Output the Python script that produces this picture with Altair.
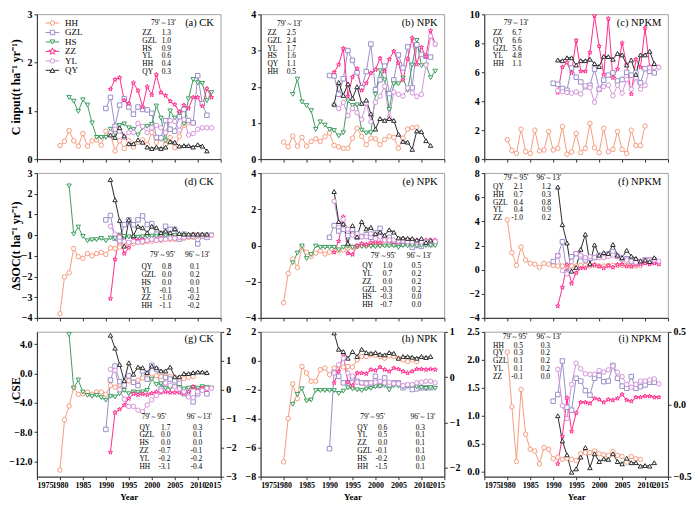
import altair as alt
import pandas as pd

FONT = "Liberation Serif"
W, H = 184, 145
SX, SY = W / 190.0, H / 150.0

SERIES = ["HH", "GZL", "HS", "ZZ", "YL", "QY"]
COLORS = ["#F59C80", "#9A8FCB", "#3E9E5E", "#FF2C8E", "#D493D8", "#2B2B2B"]
STAR = ("M0,-1L0.2245,-0.309L0.951,-0.309L0.363,0.118L0.588,0.809L0,0.382"
        "L-0.588,0.809L-0.363,0.118L-0.951,-0.309L-0.2245,-0.309Z")
SHAPES = ["circle", "square", "triangle-down", STAR, "circle", "triangle-up"]
SIZES = [20, 20, 22, 50, 20, 22]
START = {"HH": 1980, "HS": 1982, "GZL": 1990, "ZZ": 1991, "YL": 1991, "QY": 1991}
YEAR_TICKS = list(range(1975, 2016, 5))

# ---------------- (a) CK  C input ----------------
A_HH = [0.28,0.37,0.59,0.38,0.27,0.53,0.27,0.38,0.40,0.29,0.58,0.52,0.17,0.38,0.22,0.38,0.25,0.35,0.40,0.30,0.55,0.35,0.42,0.30,0.45,0.24,0.47,0.70,0.75,0.75]
A_GZL = [1.05,1.28,0.68,1.12,1.25,1.08,0.93,1.08,1.03,1.02,0.95,0.45,0.44,0.80,0.62,0.58,0.88,1.03,0.80,0.75,1.73,1.15,0.91]
A_HS = [1.28,1.20,0.99,1.23,1.12,0.75,0.45,0.45,0.45,0.62,0.53,0.70,0.73,0.65,0.62,0.50,0.65,0.68,0.72,1.10,0.85,0.38,1.00,0.85,0.95,0.73,1.25,1.65,1.58,1.57,1.21,1.38]
A_ZZ = [1.45,1.65,1.69,1.22,1.15,1.58,1.42,1.08,1.50,1.33,1.75,1.38,1.32,1.20,1.13,0.98,1.12,1.05,1.28,1.28,1.10,1.46,1.28]
A_YL = [0.55,0.62,0.58,0.45,0.55,0.55,0.74,0.68,0.55,0.65,0.70,0.65,0.55,0.80,0.78,0.60,0.82,0.50,0.53,0.62,0.65,0.65,0.65]
A_QY = [0.50,0.45,0.65,0.48,0.32,0.32,0.40,0.35,0.25,0.22,0.25,0.22,0.25,0.36,0.35,0.27,0.28,0.28,0.25,0.30,0.27,0.17]
# ---------------- (b) NPK C input ----------------
B_HH = [0.47,0.34,0.64,0.36,0.60,0.36,0.49,0.56,0.49,0.62,0.72,0.38,0.34,0.30,0.30,0.58,0.85,0.63,0.40,0.58,0.56,0.40,0.54,0.63,0.60,0.30,0.58,0.83,0.87,0.88]
B_GZL = [2.31,2.30,1.79,2.22,3.00,2.73,2.39,1.97,2.42,3.18,1.92,2.19,2.57,1.81,2.19,2.88,2.52,3.10,1.97,3.16,2.89,2.84,2.82]
B_HS = [1.79,2.21,1.58,1.48,1.34,0.82,1.03,0.94,0.82,0.79,0.64,0.73,1.61,1.48,1.50,0.80,0.72,0.73,1.79,2.44,2.19,1.37,2.08,2.08,2.24,1.90,2.60,3.28,2.58,2.60,2.25,2.43]
B_ZZ = [2.40,2.61,3.06,1.74,2.27,2.50,1.90,2.10,2.38,2.47,2.79,2.43,2.76,2.98,2.66,2.19,2.77,3.35,2.62,3.09,2.84,3.55,3.17]
B_YL = [1.50,1.40,1.57,1.20,1.40,1.28,1.10,1.55,1.03,1.57,1.74,2.01,1.15,1.85,1.79,1.74,1.97,1.83,1.73,1.79,2.60,3.40,3.18]
B_QY = [1.52,2.12,1.76,2.08,1.68,2.00,1.54,1.63,1.25,0.83,1.12,1.07,1.12,1.07,0.69,0.49,0.47,0.27,0.78,0.76,0.51,0.38]
# ---------------- (c) NPKM C input ----------------
C_HH = [1.35,0.60,0.40,2.07,0.52,0.40,2.00,0.56,0.63,1.91,0.63,0.74,2.25,0.34,0.49,1.78,0.45,0.74,2.47,0.79,0.45,2.13,0.52,0.67,1.91,0.67,0.40,2.00,0.94,0.94,2.29]
C_GZL = [5.24,5.17,4.88,4.76,6.30,5.66,5.33,5.00,5.10,6.22,4.83,5.46,5.80,5.96,5.40,5.50,6.00,5.80,5.96,5.28,6.25,6.07,5.96]
C_ZZ = [4.60,6.36,6.67,5.96,8.20,6.07,6.07,7.37,9.90,7.80,5.84,9.70,5.62,6.22,8.02,6.52,4.50,6.90,6.34,9.06,6.40,6.36,6.36]
C_YL = [4.72,4.65,4.60,4.56,4.65,4.50,5.06,4.94,3.93,4.83,5.00,5.12,4.38,5.10,4.56,5.50,4.83,5.62,4.83,5.10,6.30,6.34,6.34]
C_QY = [6.85,6.80,7.00,7.00,6.50,6.80,6.80,6.90,6.60,6.40,7.10,7.08,6.90,7.30,7.20,6.50,6.85,5.85,7.20,7.20,7.45,6.60]
# ---------------- (d) CK dSOC ----------------
D_HH = [-3.80,-2.02,-1.82,-0.65,-1.04,-1.12,-0.89,-1.00,-0.89,-0.84,-0.93,-0.62,-0.65,-0.58,-0.50,-0.45,-0.40,-0.35,-0.35,-0.30,-0.30,-0.25,-0.25,-0.20,-0.20,-0.20,-0.15,-0.15,-0.10,-0.10,-0.05,-0.05,-0.02,0.00]
D_GZL = [0.74,0.95,-0.16,-0.27,0.51,0.74,0.51,0.74,0.93,0.51,0.56,0.05,-0.08,0.43,0.28,0.28,-0.19,0.05,-0.03,-0.03,-0.42,-0.03,-0.11]
D_HS = [2.38,0.05,0.39,-0.06,-0.27,-0.22,-0.22,-0.16,-0.27,-0.14,-0.16,0.00,-0.06,-0.08,-0.10,-0.10,-0.08,-0.06,-0.05,-0.05,-0.04,-0.04,-0.03,-0.02,-0.02,-0.02,-0.01,0.00,0.00,0.00,0.00,0.00]
D_ZZ = [-3.07,-1.17,-0.03,-0.89,-0.61,-0.19,-0.25,-0.20,-0.25,-0.22,-0.20,-0.15,-0.18,-0.15,-0.12,-0.10,-0.08,-0.05,0.05,0.00,0.02,0.00,0.00]
D_YL = [0.43,0.05,-0.10,-0.30,-0.35,-0.30,-0.35,-0.30,-0.25,-0.20,-0.25,-0.20,-0.20,-0.15,-0.15,-0.10,-0.10,-0.05,-0.05,0.00,-0.05,0.00,0.00]
D_QY = [2.69,1.71,0.71,-0.53,0.74,-0.03,0.43,0.36,0.12,0.43,0.36,0.12,0.20,0.12,0.31,0.08,0.05,0.05,0.05,0.05,0.05,0.05]
# ---------------- (e) NPK dSOC ----------------
E_HH = [-3.16,-1.55,-0.74,-1.22,-0.06,-0.37,-0.60,-0.42,-0.29,-0.47,-0.37,-0.29,-0.29,-0.24,-0.15,-0.10,-0.05,0.00,0.00,0.05,0.05,0.05,0.08,0.10,0.10,0.10,0.10,0.12,0.12,0.15,0.15,0.15,0.18,0.20]
E_GZL = [0.45,1.10,0.80,0.90,0.55,0.90,0.45,0.50,0.60,0.45,0.70,0.95,0.40,0.45,0.20,0.20,0.10,0.15,-0.10,0.00,-0.05,0.10,0.05]
E_HS = [-0.95,-0.42,-0.03,-0.72,-0.50,-0.03,-0.10,-0.10,-0.10,-0.10,-0.24,-0.10,-0.05,-0.10,-0.08,-0.05,-0.06,-0.05,-0.06,-0.04,-0.03,-0.03,-0.02,-0.10,0.00,-0.02,0.00,-0.01,0.00,0.00,0.00,0.00]
E_ZZ = [-0.37,0.24,1.58,-0.42,-0.50,0.00,0.10,0.05,0.15,0.20,0.15,0.30,0.25,0.20,0.20,0.25,0.30,0.25,0.30,0.25,0.30,0.30,0.30]
E_YL = [2.45,1.20,1.45,0.90,0.57,0.65,0.48,0.48,0.65,0.39,0.48,0.30,0.30,0.30,0.25,0.25,0.20,0.20,0.20,0.20,0.22,0.25,0.22]
E_QY = [2.98,1.32,1.19,0.12,1.10,0.48,1.32,0.92,1.00,0.65,0.74,0.57,0.87,0.74,0.42,0.42,0.39,0.39,0.30,0.39,0.17,0.30]
# ---------------- (f) NPKM dSOC ----------------
F_HH = [4.13,1.41,0.35,1.87,0.80,0.53,0.45,0.19,0.53,0.45,0.35,0.30,0.30,0.30,0.30,0.30,0.35,0.35,0.30,0.35,0.30,0.30,0.35,0.35,0.35,0.35,0.35,0.30,0.30,0.35]
F_GZL = [0.67,1.15,2.32,-0.27,1.07,1.33,1.07,0.80,0.93,1.00,1.20,1.10,1.30,1.50,1.10,0.90,0.90,0.70,0.70,0.60,0.80,0.80,0.80]
F_ZZ = [-3.01,-1.47,0.40,-1.15,-0.27,0.13,0.13,0.40,0.40,0.27,0.13,0.32,0.19,0.40,0.45,0.27,0.27,0.40,0.45,0.53,0.45,0.53,0.45]
F_YL = [1.15,-0.08,-0.35,0.67,1.33,1.20,0.99,1.07,1.00,1.00,1.00,1.10,1.20,1.10,1.00,0.80,0.70,0.60,0.70,0.80,0.80,0.80,0.70]
F_QY = [6.85,3.73,2.21,-0.13,0.19,1.68,2.93,0.48,2.05,1.20,1.41,1.33,2.08,1.20,0.99,1.60,1.12,0.93,0.72,0.80,0.67,0.99]
# ---------------- (g) CK CSE ----------------
G_HH = [-13.2,-6.31,-4.44,-1.87,-2.84,-2.76,-2.53,-2.84,-2.53,-2.53,-2.84,-1.64,-1.87,-1.51,-1.60,-1.00,-1.20,-0.90,-0.60,-0.50,-0.50,-0.30,-0.40,-0.30,-0.40,-0.50,-0.90,-0.70,-0.50,-0.40]
G_GZL = [-7.64,-0.89,1.02,-1.11,-1.56,-0.31,-1.20,-1.64,0.36,-0.76,1.11,0.58,-2.09,-0.53,-0.76,-0.98,-1.33,-2.76,-2.31,-3.87,-2.76,-2.09,-2.76]
G_HS = [5.33,-2.00,-0.89,-2.53,-2.98,-3.11,-2.98,-3.29,-3.64,-3.11,-3.20,-2.76,-2.31,-2.76,-2.50,-2.60,-2.50,-2.30,-0.76,-1.50,-1.40,-2.00,-2.00,-1.80,-1.90,-2.10,-2.00,-1.90,-2.00,-1.80,-1.90,-2.00]
G_ZZ = [-10.76,-5.33,-4.89,-4.31,-3.42,-2.76,-2.90,-2.80,-2.90,-2.70,-2.50,-2.60,-2.50,-2.60,-2.60,-2.60,-2.70,-2.50,-1.80,-2.30,-2.00,-2.20,-2.00]
G_YL = [0.58,0.44,-2.20,-3.50,-4.50,-4.50,-5.00,-5.20,-4.30,-3.60,-3.00,-2.30,-1.30,-1.60,-1.80,-2.10,-2.50,-3.20,-3.30,-2.50,-2.30,-2.00,-2.00]
G_QY = [5.24,3.47,1.24,-0.98,1.47,-0.09,0.89,0.80,0.13,1.02,0.80,0.36,0.36,0.89,-0.44,-0.44,0.00,0.00,0.13,0.22,0.22,0.13]
# ---------------- (h) NPK CSE ----------------
H_HH = [-6.98,-3.98,-1.59,-2.61,-0.39,-0.84,-1.41,-1.41,-0.61,-0.50,-0.95,-0.50,-0.34,-0.43,-0.39,-0.43,0.07,0.30,0.30,0.41,0.41,0.30,0.18,0.34,0.30,0.18,0.07,-0.05,0.07,-0.05]
H_GZL = [-6.07,-0.80,-1.07,-1.52,-1.52,-1.18,-1.41,-1.52,-1.52,-1.52,-1.07,-1.70,-1.18,-1.64,-1.52,-1.52,-1.86,-1.70,-1.98,-1.93,-1.86,-1.86,-1.86]
H_HS = [-3.00,-2.32,-1.93,-2.77,-2.70,-2.05,-2.05,-2.05,-2.05,-2.05,-2.25,-2.09,-1.86,-1.93,-2.00,-2.05,-1.95,-1.90,-1.80,-1.75,-1.70,-2.00,-1.70,-1.75,-1.80,-1.75,-1.70,-1.80,-1.85,-1.90,-1.85,-1.90]
H_ZZ = [-1.52,-0.73,0.41,-1.48,-1.70,-0.84,-0.84,-0.89,-0.61,-0.66,-0.43,-0.61,-0.73,-0.50,-0.57,-0.73,-0.84,-0.73,-0.57,-0.57,-0.61,-0.57,-0.61]
H_YL = [-0.84,-0.27,0.18,-0.84,-1.07,-1.48,-1.52,-1.57,-1.52,-1.48,-1.41,-1.52,-1.48,-1.57,-1.59,-1.70,-1.64,-1.64,-1.52,-1.48,-1.41,-1.41,-1.52]
H_QY = [1.93,0.80,0.64,0.18,0.64,0.30,0.80,0.57,0.52,0.57,0.45,0.41,0.57,0.52,0.18,0.30,0.30,0.25,0.18,0.30,0.23,0.30]
# ---------------- (i) NPKM CSE ----------------
I_HH = [2.14,1.16,0.18,1.47,0.67,0.40,0.37,0.14,0.43,0.40,0.23,0.26,0.22,0.24,0.22,0.20,0.32,0.34,0.34,0.37,0.32,0.30,0.29,0.36,0.29,0.27,0.17,0.27,0.23,0.22]
I_GZL = [1.26,1.38,1.98,1.15,1.10,1.67,1.62,1.45,1.37,1.67,1.72,1.61,1.62,1.90,1.67,1.53,1.49,1.70,1.49,1.52,1.55,1.60,1.60]
I_ZZ = [0.14,0.63,1.32,0.72,1.05,1.24,1.24,1.22,1.31,1.29,1.24,1.29,1.28,1.31,1.38,1.28,1.26,1.33,1.33,1.35,1.35,1.33,1.33]
I_YL = [1.83,1.18,0.95,1.56,1.94,1.84,1.75,1.74,1.74,1.81,1.78,1.82,1.89,1.78,1.70,1.56,1.51,1.56,1.62,1.62,1.64,1.66,1.57]
I_QY = [1.00,0.55,0.30,-0.01,0.05,0.26,0.43,0.07,0.32,0.18,0.23,0.22,0.32,0.18,0.14,0.24,0.16,0.16,0.10,0.11,0.10,0.16]

# ---------------- annotation tables ----------------
NA_NAMES = ["ZZ", "GZL", "HS", "YL", "HH", "QY"]; NA_V1 = [1.3, 1.0, 0.9, 0.6, 0.4, 0.3]
NB_NAMES = ["ZZ", "GZL", "YL", "HS", "QY", "HH"]; NB_V1 = [2.5, 2.4, 1.7, 1.6, 1.1, 0.5]
NC_NAMES = ["ZZ", "QY", "GZL", "YL", "HH"]; NC_V1 = [6.7, 6.6, 5.6, 4.8, 1.1]
ND_NAMES = ["QY", "GZL", "HS", "YL", "ZZ", "HH"]; ND_V1 = [0.8, 0.0, 0.0, -0.1, -1.0, -1.1]; ND_V2 = [0.1, 0.2, 0.0, -0.1, -0.2, -0.2]
NE_NAMES = ["QY", "YL", "ZZ", "GZL", "HS", "HH"]; NE_V1 = [1.0, 0.7, 0.0, -0.3, -0.3, -0.7]; NE_V2 = [0.5, 0.2, 0.2, 0.2, 0.0, 0.0]
NF_NAMES = ["QY", "HH", "GZL", "YL", "ZZ"]; NF_V1 = [2.1, 0.7, 0.4, 0.4, -1.0]; NF_V2 = [1.2, 0.3, 0.8, 0.9, 0.2]
NG_NAMES = ["QY", "GZL", "HS", "ZZ", "YL", "HH"]; NG_V1 = [1.7, 0.0, 0.0, -0.7, -0.2, -3.1]; NG_V2 = [0.3, 0.1, 0.0, -0.1, -0.2, -0.4]
NH_NAMES = ["QY", "YL", "ZZ", "GZL", "HS", "HH"]; NH_V1 = [0.6, 0.5, 0.0, -0.1, -0.2, -1.5]; NH_V2 = [0.3, 0.1, 0.1, 0.1, 0.0, 0.1]
NI_NAMES = ["HH", "QY", "GZL", "YL", "ZZ"]; NI_V1 = [0.5, 0.3, 0.1, 0.1, -0.1]; NI_V2 = [0.3, 0.2, 0.2, 0.2, 0.0]

HDR1 = "79'～13'"
HDR_A = "79'～95'"
HDR_B = "96'～13'"
NOTE_SIZE = 7.5

ONE = pd.DataFrame({"k": [0]})


def fmt(vals):
    return ["%.1f" % v for v in vals]


def txt(lines, px, py, align="left", size=NOTE_SIZE, lh=7.9, baseline="top", color="black"):
    return alt.Chart(ONE).mark_text(
        text=lines, align=align, baseline=baseline, font=FONT, fontSize=size,
        lineHeight=lh, color=color
    ).encode(x=alt.value(px * SX), y=alt.value(py * SY))


def note_block(names, v1, v2, hx1, hx2, hy, nx, v1x, v2x, ly, single=False):
    layers = []
    if single:
        layers.append(txt([HDR1], hx1, hy - 4))
    else:
        layers.append(txt([HDR_A], hx1, hy - 4))
        layers.append(txt([HDR_B], hx2, hy - 4))
    layers.append(txt(names, nx, ly - 4))
    if single:
        layers.append(txt(fmt(v1), v1x, ly - 4))
    else:
        layers.append(txt(fmt(v1), v1x, ly - 4, align="right"))
        layers.append(txt(fmt(v2), v2x, ly - 4, align="right"))
    return layers


def make_panel(data, ydom, yticks, yfmt, label, notes, row, ytitle=None,
               right=None, legend=False, label_y=9, title_at=None):
    recs = []
    for s in SERIES:
        if s in data:
            for i, v in enumerate(data[s]):
                recs.append({"Year": START[s] + i, "v": v, "s": s})
    df = pd.DataFrame(recs)
    if row == 2:
        xax = alt.Axis(values=YEAR_TICKS, format="d", title="Year", labelFontSize=8,
                       titleFontSize=9, titlePadding=3, labelPadding=2, labelOverlap=False)
    else:
        xax = alt.Axis(values=YEAR_TICKS, labels=False, title=None)
    ykw = dict(values=yticks, format=yfmt, title=None)
    if ytitle:
        ty = H / 2
        if title_at is not None:
            ty = (ydom[1] - title_at) / (ydom[1] - ydom[0]) * H
        ykw.update(title=ytitle, titleX=-14, titleY=ty, titleAngle=-90,
                   titleAlign="center", titleBaseline="bottom", titleFontSize=12)
    x = alt.X("Year:Q", scale=alt.Scale(domain=[1975, 2015], nice=False, zero=False), axis=xax)
    y = alt.Y("v:Q", scale=alt.Scale(domain=ydom, nice=False, zero=False), axis=alt.Axis(**ykw))
    color = alt.Color("s:N", scale=alt.Scale(domain=SERIES, range=COLORS), legend=None)
    shape = alt.Shape("s:N", scale=alt.Scale(domain=SERIES, range=SHAPES), legend=None)
    size = alt.Size("s:N", scale=alt.Scale(domain=SERIES, range=SIZES), legend=None)
    base = alt.Chart(df)
    lines = base.mark_line(strokeWidth=1, clip=True).encode(x=x, y=y, color=color, detail="s:N")
    pts = base.mark_point(filled=False, fill="white", fillOpacity=1, opacity=1,
                          strokeWidth=1, clip=True).encode(x=x, y=y, color=color,
                                                           shape=shape, size=size)
    layers = [lines, pts]
    layers.append(txt([label], 183, label_y, align="right", size=10.5, baseline="middle"))
    layers += notes
    if legend:
        for i, s in enumerate(SERIES):
            yy = (9 + 9.8 * i) * SY
            layers.append(alt.Chart(ONE).mark_rule(color=COLORS[i], strokeWidth=1).encode(
                x=alt.value(9 * SX), x2=alt.value(23 * SX), y=alt.value(yy)))
            layers.append(alt.Chart(ONE).mark_point(
                shape=SHAPES[i], filled=False, fill="white", fillOpacity=1, opacity=1,
                color=COLORS[i], size=SIZES[i], strokeWidth=1).encode(
                x=alt.value(16 * SX), y=alt.value(yy)))
            layers.append(alt.Chart(ONE).mark_text(
                text=s, align="left", baseline="middle", font=FONT, fontSize=9,
                color="black").encode(x=alt.value(29 * SX), y=alt.value(yy)))
    inner = alt.layer(*layers)
    if right is not None:
        rdom, rticks, rfmt = right
        rdf = pd.DataFrame({"r": rticks})
        rl = alt.Chart(rdf).mark_rule(opacity=0).encode(
            y=alt.Y("r:Q", scale=alt.Scale(domain=rdom, nice=False, zero=False),
                    axis=alt.Axis(orient="right", values=rticks, format=rfmt, title=None)))
        return alt.layer(inner, rl).resolve_scale(y="independent").properties(width=W, height=H)
    return inner.properties(width=W, height=H)


pa = make_panel({"HH": A_HH, "GZL": A_GZL, "HS": A_HS, "ZZ": A_ZZ, "YL": A_YL, "QY": A_QY},
                [0, 3], [0, 1, 2, 3], "d", "(a) CK",
                note_block(NA_NAMES, NA_V1, None, 118, 0, 9, 109, 129, 0, 19, single=True),
                0, ytitle="C input(t ha⁻¹ yr⁻¹)", legend=True)
pb = make_panel({"HH": B_HH, "GZL": B_GZL, "HS": B_HS, "ZZ": B_ZZ, "YL": B_YL, "QY": B_QY},
                [0, 4], [0, 1, 2, 3, 4], "d", "(b) NPK",
                note_block(NB_NAMES, NB_V1, None, 17, 0, 10, 7, 27, 0, 19, single=True), 0)
pc = make_panel({"HH": C_HH, "GZL": C_GZL, "ZZ": C_ZZ, "YL": C_YL, "QY": C_QY},
                [0, 10], [0, 2, 4, 6, 8, 10], "d", "(c) NPKM",
                note_block(NC_NAMES, NC_V1, None, 20, 0, 9, 9, 29, 0, 19, single=True), 0)
pd_ = make_panel({"HH": D_HH, "GZL": D_GZL, "HS": D_HS, "ZZ": D_ZZ, "YL": D_YL, "QY": D_QY},
                 [-4, 3], [-4, -3, -2, -1, 0, 1, 2, 3], "d", "(d) CK",
                 note_block(ND_NAMES, ND_V1, ND_V2, 117, 153, 85, 108, 139, 168, 97),
                 1, ytitle="ΔSOC(t ha⁻¹ yr⁻¹)")
pe = make_panel({"HH": E_HH, "GZL": E_GZL, "HS": E_HS, "ZZ": E_ZZ, "YL": E_YL, "QY": E_QY},
                [-4, 4], [-4, -2, 0, 2, 4], "d", "(e) NPK",
                note_block(NE_NAMES, NE_V1, NE_V2, 114, 151, 86, 105, 136, 166, 96), 1)
pf = make_panel({"HH": F_HH, "GZL": F_GZL, "ZZ": F_ZZ, "YL": F_YL, "QY": F_QY},
                [-4, 8], [-4, -2, 0, 2, 4, 6, 8], "d", "(f) NPKM",
                note_block(NF_NAMES, NF_V1, NF_V2, 20, 54, 5, 9, 40, 69, 14), 1)
pg = make_panel({"HH": G_HH, "GZL": G_GZL, "HS": G_HS, "ZZ": G_ZZ, "YL": G_YL, "QY": G_QY},
                [-14.1, 5.7], [-12, -8, -4, 0, 4], ".1f", "(g) CK",
                note_block(NG_NAMES, NG_V1, NG_V2, 108, 155, 88, 106, 138, 171, 99),
                2, ytitle="CSE", right=([-3, 2], [-3, -2, -1, 0, 1, 2], "d"), label_y=7,
                title_at=-2.0)
ph = make_panel({"HH": H_HH, "GZL": H_GZL, "HS": H_HS, "ZZ": H_ZZ, "YL": H_YL, "QY": H_QY},
                [-8, 2], [-8, -6, -4, -2, 0, 2], "d", "(h) NPK",
                note_block(NH_NAMES, NH_V1, NH_V2, 103, 155, 88, 100, 131, 170, 99),
                2, right=([-2.2, 1], [-2, -1, 0, 1], "d"), label_y=7)
pi = make_panel({"HH": I_HH, "GZL": I_GZL, "ZZ": I_ZZ, "YL": I_YL, "QY": I_QY},
                [-0.09, 2.5], [0, 0.5, 1.0, 1.5, 2.0, 2.5], ".1f", "(i) NPKM",
                note_block(NI_NAMES, NI_V1, NI_V2, 19, 54, 5, 9, 40, 68, 14),
                2, right=([-0.5, 0.5], [-0.5, 0.0, 0.5], ".1f"), label_y=7)

chart = alt.concat(pa, pb, pc, pd_, pe, pf, pg, ph, pi, columns=3,
                   spacing={"row": 14, "column": 40}, bounds="flush").properties(padding=0)
chart = chart.configure_view(stroke="#8c8c8c", strokeWidth=0.8).configure_axis(
    labelFont=FONT, labelFontWeight="bold", labelFontSize=10, labelColor="black",
    titleFont=FONT, titleFontWeight="bold", titleColor="black",
    domainColor="#333333", tickColor="#333333", tickSize=3, grid=False, labelPadding=2)

chart.save("out.html", embed_options={"renderer": "svg", "actions": False})
